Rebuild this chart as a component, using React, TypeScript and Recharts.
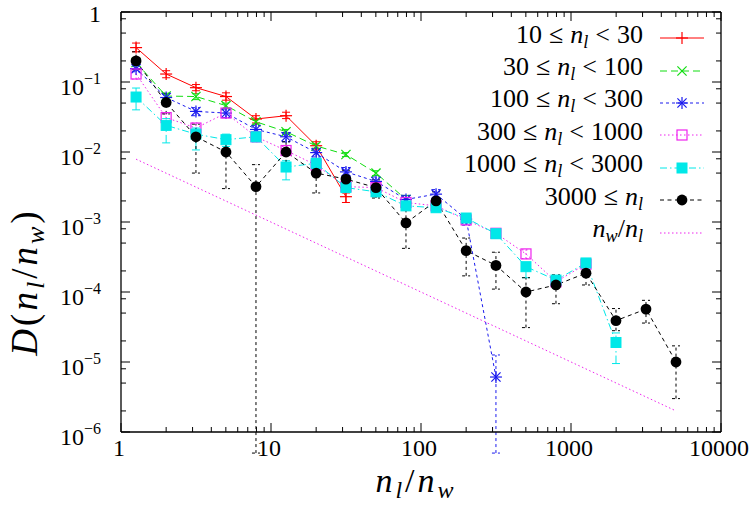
import React from "react";
import { LineChart, Line, XAxis, YAxis, ErrorBar, Legend } from "recharts";

document.body.style.margin = "0";

const FONT = "'Liberation Serif', 'DejaVu Serif', serif";

// bin centres of n_l/n_w (log spaced)
const binCentres = [1.26, 2.0, 3.16, 5.01, 7.94, 12.6, 20.0, 31.6, 50.1, 79.4, 126, 200, 316, 501, 794, 1259, 1995, 3162, 5012];

const val10to30 = [0.31, 0.13, 0.083, 0.062, 0.0296, 0.033, 0.0123, 0.0023];
const lo10to30 = [0.27, 0.115, 0.075, 0.055, 0.026, 0.03, 0.011, 0.0019];
const hi10to30 = [0.36, 0.145, 0.092, 0.07, 0.033, 0.037, 0.014, 0.0026];

const val30to100 = [0.19, 0.063, 0.062, 0.046, 0.027, 0.0195, 0.0122, 0.0092, 0.005, 0.0021];
const lo30to100 = [0.17, 0.057, 0.056, 0.042, 0.025, 0.018, 0.0113, 0.0086, 0.0046, 0.0018];
const hi30to100 = [0.21, 0.069, 0.068, 0.05, 0.029, 0.021, 0.0131, 0.0098, 0.0054, 0.0024];

const val100to300 = [0.155, 0.06, 0.038, 0.036, 0.021, 0.0165, 0.0098, 0.0052, 0.0038, 0.0021, 0.0025, 0.0011, 6.1e-6];
const lo100to300 = [0.14, 0.052, 0.033, 0.031, 0.018, 0.014, 0.0085, 0.0045, 0.0033, 0.0018, 0.0021, 0.0009, 5e-7];
const hi100to300 = [0.17, 0.068, 0.043, 0.041, 0.024, 0.019, 0.0112, 0.006, 0.0044, 0.0024, 0.0029, 0.0013, 1.26e-5];

const val300to1000 = [0.13, 0.031, 0.022, 0.036, 0.0165, 0.0105, 0.0065, 0.0032, 0.0031, 0.0019, 0.0017, 0.00107, 0.00069, 0.00035, 0.00014, 0.00025];
const lo300to1000 = [0.11, 0.026, 0.018, 0.031, 0.014, 0.0092, 0.0057, 0.0028, 0.0027, 0.0017, 0.0015, 0.00095, 0.00061, 0.0003, 0.00012, 0.00022];
const hi300to1000 = [0.15, 0.036, 0.026, 0.041, 0.019, 0.012, 0.0074, 0.0036, 0.0035, 0.0021, 0.0019, 0.0012, 0.00077, 0.0004, 0.00016, 0.00028];

const val1000to3000 = [0.061, 0.024, 0.018, 0.015, 0.0165, 0.0061, 0.0069, 0.0031, 0.0027, 0.0017, 0.0016, 0.00114, 0.00068, 0.00023, 0.000148, 0.00026, 1.9e-5];
const lo1000to3000 = [0.04, 0.0135, 0.0107, 0.012, 0.014, 0.004, 0.0058, 0.0027, 0.0023, 0.0015, 0.0014, 0.001, 0.0006, 0.00016, 0.00013, 0.00023, 9.5e-6];
const hi1000to3000 = [0.082, 0.03, 0.022, 0.018, 0.019, 0.0075, 0.008, 0.0035, 0.0031, 0.0019, 0.0018, 0.0013, 0.00076, 0.00026, 0.00017, 0.0003, 2.6e-5];

const val3000up = [0.2, 0.051, 0.0165, 0.01, 0.0032, 0.01, 0.005, 0.0041, 0.0031, 0.00097, 0.002, 0.00039, 0.00024, 0.0001, 0.000126, 0.000186, 3.9e-5, 5.7e-5, 1.0e-5];
const lo3000up = [0.15, 0.035, 0.005, 0.003, 5e-7, 0.007, 0.0026, 0.003, 0.0022, 0.00042, 0.0015, 0.00017, 0.00011, 3.1e-5, 6.8e-5, 0.000126, 2.8e-5, 3.6e-5, 3.0e-6];
const hi3000up = [0.27, 0.069, 0.025, 0.017, 0.0066, 0.014, 0.0066, 0.0055, 0.004, 0.0015, 0.0027, 0.00059, 0.00037, 0.00016, 0.000176, 0.00025, 5.8e-5, 7.6e-5, 1.7e-5];

// reference line n_w/n_l (end points)
const refX = [1.26, 5012];
const refY = [0.0079, 2.0e-6];

const xMajor = [1, 10, 100, 1000, 10000];
const yMajor = [1e-6, 1e-5, 1e-4, 1e-3, 1e-2, 1e-1, 1];
const xMinorSteps = [2, 3, 4, 5, 6, 7, 8, 9];
const yMinorSteps = [2, 5, 8];

const xTicks = [...xMajor, ...xMajor.slice(0, -1).flatMap((d) => xMinorSteps.map((m) => m * d))];
const yTicks = [...yMajor, ...yMajor.slice(0, -1).flatMap((d) => yMinorSteps.map((m) => m * d))];

const build = (vals: number[], lo: number[], hi: number[]) =>
  vals.map((v, i) => ({ x: binCentres[i], y: v, err: [v - lo[i], hi[i] - v] }));

type Kind = "plus" | "cross" | "star" | "box" | "fbox" | "circle" | "none";

const series = [
  { name: "10to30", lo: "10", hi: "30", color: "#ff0000", dash: undefined, errDash: undefined, kind: "plus" as Kind, data: build(val10to30, lo10to30, hi10to30) },
  { name: "30to100", lo: "30", hi: "100", color: "#11dd11", dash: "7 4", errDash: "7 4", kind: "cross" as Kind, data: build(val30to100, lo30to100, hi30to100) },
  { name: "100to300", lo: "100", hi: "300", color: "#1a1aee", dash: "3 3", errDash: "3 3", kind: "star" as Kind, data: build(val100to300, lo100to300, hi100to300) },
  { name: "300to1000", lo: "300", hi: "1000", color: "#ee22ee", dash: "1.5 2.5", errDash: "1.5 2.5", kind: "box" as Kind, data: build(val300to1000, lo300to1000, hi300to1000) },
  { name: "1000to3000", lo: "1000", hi: "3000", color: "#00e8e8", dash: "7 3 1.5 3", errDash: "8 3 1.5 3", kind: "fbox" as Kind, data: build(val1000to3000, lo1000to3000, hi1000to3000) },
  { name: "3000up", lo: "3000", hi: null, color: "#000000", dash: "4 3.5", errDash: "3 3", kind: "circle" as Kind, data: build(val3000up, lo3000up, hi3000up) },
];

const refData = refX.map((x, i) => ({ x, y: refY[i] }));

function Marker({ kind, cx, cy, color }: { kind: Kind; cx: number; cy: number; color: string }) {
  if (cx == null || cy == null || isNaN(cx) || isNaN(cy)) return <g />;
  const s = 6;
  const d = 4.6;
  switch (kind) {
    case "plus":
      return (
        <g stroke={color} strokeWidth={1.2}>
          <line x1={cx - s} x2={cx + s} y1={cy} y2={cy} />
          <line x1={cx} x2={cx} y1={cy - s} y2={cy + s} />
        </g>
      );
    case "cross":
      return (
        <g stroke={color} strokeWidth={1.2}>
          <line x1={cx - d} x2={cx + d} y1={cy - d} y2={cy + d} />
          <line x1={cx - d} x2={cx + d} y1={cy + d} y2={cy - d} />
        </g>
      );
    case "star":
      return (
        <g stroke={color} strokeWidth={1.2}>
          <line x1={cx - s} x2={cx + s} y1={cy} y2={cy} />
          <line x1={cx} x2={cx} y1={cy - s} y2={cy + s} />
          <line x1={cx - d} x2={cx + d} y1={cy - d} y2={cy + d} />
          <line x1={cx - d} x2={cx + d} y1={cy + d} y2={cy - d} />
        </g>
      );
    case "box":
      return <rect x={cx - 5} y={cy - 5} width={10} height={10} fill="none" stroke={color} strokeWidth={1.2} />;
    case "fbox":
      return <rect x={cx - 5} y={cy - 5} width={10} height={10} fill={color} stroke={color} strokeWidth={1} />;
    case "circle":
      return <circle cx={cx} cy={cy} r={5.4} fill={color} />;
    default:
      return <g />;
  }
}

const isMajor = (v: number) => Math.abs(Math.log10(v) - Math.round(Math.log10(v))) < 1e-6;

function BottomTick(props: any) {
  const { x, y, payload } = props;
  const v = payload.value;
  const major = isMajor(v);
  return (
    <g>
      <line x1={x} x2={x} y1={y} y2={y - (major ? 9 : 5)} stroke="#000" strokeWidth={1} />
      {major && (
        <text x={x - 2} y={y + 24} textAnchor="middle" fontSize={24} fontFamily={FONT} fill="#000">
          {v}
        </text>
      )}
    </g>
  );
}

function TopTick(props: any) {
  const { x, y, payload } = props;
  const major = isMajor(payload.value);
  return <line x1={x} x2={x} y1={y} y2={y + (major ? 9 : 5)} stroke="#000" strokeWidth={1} />;
}

function LeftTick(props: any) {
  const { x, y, payload } = props;
  const v = payload.value;
  const major = isMajor(v);
  const e = Math.round(Math.log10(v));
  return (
    <g>
      <line x1={x} x2={x + (major ? 9 : 5)} y1={y} y2={y} stroke="#000" strokeWidth={1} />
      {major &&
        (e === 0 ? (
          <text x={x - 20} y={y + 10} textAnchor="end" fontSize={24} fontFamily={FONT} fill="#000">
            1
          </text>
        ) : (
          <text x={x - 20} y={y + 13} textAnchor="end" fontSize={24} fontFamily={FONT} fill="#000">
            <tspan>10</tspan>
            <tspan dy={-11} fontSize={16}>{"\u2212" + -e}</tspan>
          </text>
        ))}
    </g>
  );
}

function RightTick(props: any) {
  const { x, y, payload } = props;
  const major = isMajor(payload.value);
  return <line x1={x} x2={x - (major ? 9 : 5)} y1={y} y2={y} stroke="#000" strokeWidth={1} />;
}

const sub = { fontSize: "0.7em", fontStyle: "italic", verticalAlign: "-0.28em" } as React.CSSProperties;
const rel = { margin: "0 7px" } as React.CSSProperties;

function LegendBox() {
  const rows = [
    ...series.map((s) => ({
      key: s.name,
      label: (
        <span>
          {s.lo}
          <span style={rel}>≤</span>
          <i>n</i>
          <span style={sub}>l</span>
          {s.hi && (
            <>
              <span style={rel}>{"<"}</span>
              {s.hi}
            </>
          )}
        </span>
      ),
      color: s.color,
      dash: s.dash,
      kind: s.kind,
    })),
    {
      key: "ref",
      label: (
        <span>
          <i>n</i>
          <span style={sub}>w</span>/<i>n</i>
          <span style={sub}>l</span>
        </span>
      ),
      color: "#ee22ee",
      dash: "1.5 2.5",
      kind: "none" as Kind,
    },
  ];
  return (
    <div style={{ fontFamily: FONT, fontSize: 26, color: "#000" }}>
      {rows.map((r) => (
        <div key={r.key} style={{ display: "flex", alignItems: "center", height: 32.4 }}>
          <div style={{ width: 313, textAlign: "right", whiteSpace: "nowrap", lineHeight: "32px" }}>{r.label}</div>
          <svg width={64} height={32} style={{ display: "block" }}>
            <line x1={17} x2={61} y1={16} y2={16} stroke={r.color} strokeWidth={1} strokeDasharray={r.dash} />
            <Marker kind={r.kind} cx={39} cy={16} color={r.color} />
          </svg>
        </div>
      ))}
    </div>
  );
}

export default function App() {
  return (
    <div style={{ width: 750, height: 505, background: "#fff", position: "relative" }}>
      <LineChart width={750} height={505} margin={{ top: 0, right: 0, bottom: 0, left: 0 }}>
        <XAxis
          xAxisId={0}
          dataKey="x"
          type="number"
          scale="log"
          domain={[1, 10000]}
          allowDataOverflow
          ticks={xTicks}
          interval={0}
          tickSize={0}
          tickMargin={0}
          tickLine={false}
          tick={<BottomTick />}
          height={73}
          axisLine={{ stroke: "#000", strokeWidth: 1.3 }}
        />
        <XAxis
          xAxisId="top"
          orientation="top"
          dataKey="x"
          type="number"
          scale="log"
          domain={[1, 10000]}
          allowDataOverflow
          ticks={xTicks}
          interval={0}
          tickSize={0}
          tickMargin={0}
          tickLine={false}
          tick={<TopTick />}
          height={12}
          axisLine={{ stroke: "#000", strokeWidth: 1.3 }}
        />
        <YAxis
          yAxisId={0}
          type="number"
          scale="log"
          domain={[1e-6, 1]}
          allowDataOverflow
          ticks={yTicks}
          interval={0}
          tickSize={0}
          tickMargin={0}
          tickLine={false}
          tick={<LeftTick />}
          width={121}
          axisLine={{ stroke: "#000", strokeWidth: 1.3 }}
        />
        <YAxis
          yAxisId="right"
          orientation="right"
          type="number"
          scale="log"
          domain={[1e-6, 1]}
          allowDataOverflow
          ticks={yTicks}
          interval={0}
          tickSize={0}
          tickMargin={0}
          tickLine={false}
          tick={<RightTick />}
          width={29}
          axisLine={{ stroke: "#000", strokeWidth: 1.3 }}
        />
        <Legend
          layout="vertical"
          align="center"
          verticalAlign="middle"
          content={() => <LegendBox />}
          wrapperStyle={{ position: "absolute", left: 330, top: 22, width: 390, height: 230 }}
        />
        {series.map((s) => (
          <Line
            key={s.name}
            data={s.data}
            dataKey="y"
            type="linear"
            stroke={s.color}
            strokeWidth={1}
            strokeDasharray={s.dash}
            isAnimationActive={false}
            dot={(p: any) => <Marker key={`${s.name}-${p.index}`} kind={s.kind} cx={p.cx} cy={p.cy} color={s.color} />}
            activeDot={false}
          >
            <ErrorBar dataKey="err" direction="y" width={4} stroke={s.color} strokeWidth={1} strokeDasharray={s.errDash} />
          </Line>
        ))}
        <Line
          data={refData}
          dataKey="y"
          type="linear"
          stroke="#ee22ee"
          strokeWidth={1}
          strokeDasharray="1.5 2.5"
          dot={false}
          activeDot={false}
          isAnimationActive={false}
        />
      </LineChart>
      <svg width={750} height={505} style={{ position: "absolute", left: 0, top: 0, pointerEvents: "none" }}>
        <text x={416} y={492} textAnchor="middle" fontSize={34} fontFamily={FONT} fontStyle="italic" letterSpacing={3}>
          n<tspan fontSize={24} dy={6}>l</tspan>
          <tspan dy={-6} fontStyle="normal">/</tspan>n<tspan fontSize={24} dy={6}>w</tspan>
        </text>
        <text
          x={37}
          y={282}
          textAnchor="middle"
          fontSize={37}
          fontFamily={FONT}
          letterSpacing={3}
          transform="rotate(-90 37 282)"
        >
          <tspan fontStyle="italic">D</tspan>(<tspan fontStyle="italic">n</tspan>
          <tspan fontSize={26} dy={7} fontStyle="italic">l</tspan>
          <tspan dy={-7}>/</tspan>
          <tspan fontStyle="italic">n</tspan>
          <tspan fontSize={26} dy={7} fontStyle="italic">w</tspan>
          <tspan dy={-7}>)</tspan>
        </text>
      </svg>
    </div>
  );
}
